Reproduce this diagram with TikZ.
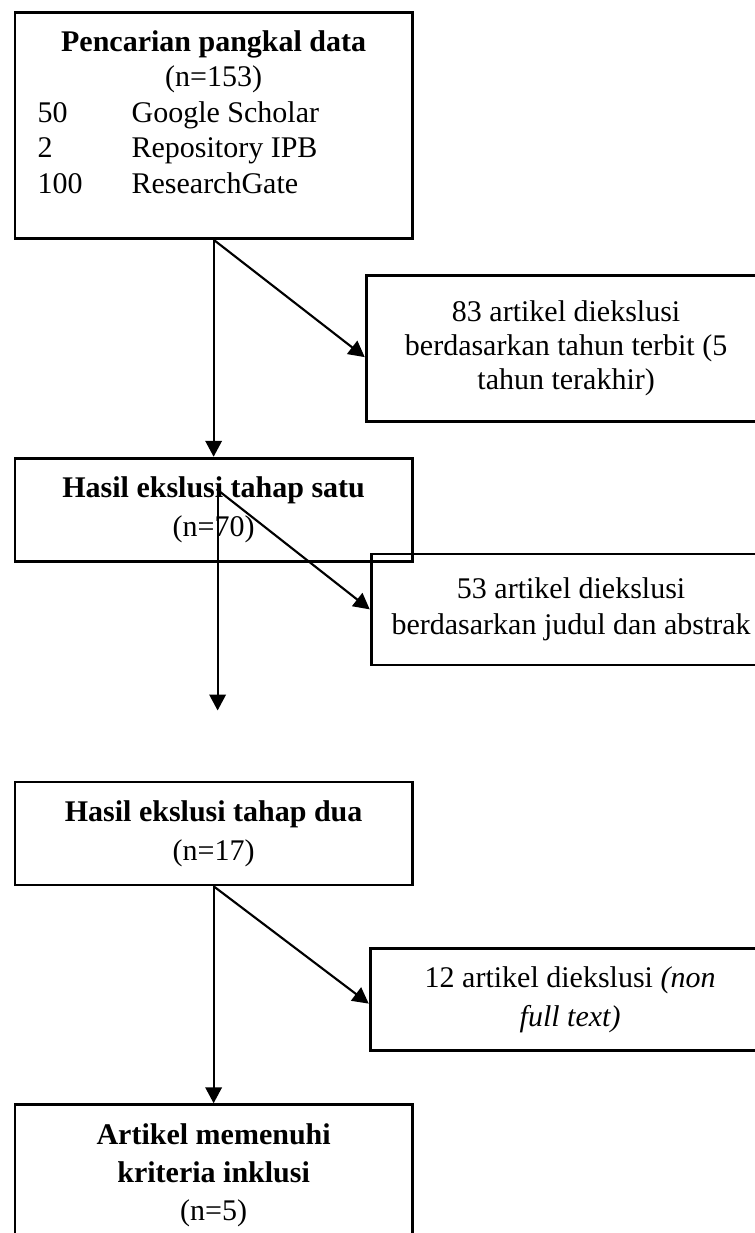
\documentclass[tikz,border=0pt]{standalone}
\usepackage{fontspec}
\setmainfont{Liberation Serif}
\usepackage{tikz}
\usetikzlibrary{positioning}
\usetikzlibrary{arrows.meta}
\usepackage{xcolor}

\begin{document}
\begin{tikzpicture}[
		% Style definitions - sizes taken from the flow chart
		mainbox/.style={draw, line width=1.1pt, minimum width=159pt, inner sep=0pt, align=center, font=\fontsize{12}{15.6}\selectfont},
		exbox/.style={draw, line width=1.1pt, minimum width=160pt, inner sep=0pt, align=center, anchor=north west, font=\fontsize{12}{14.4}\selectfont},
		arrow/.style={-{Triangle[length=6.4pt,width=6.6pt]}, line width=0.85pt},
		node distance=86.8pt,
		]
		% page frame (picture is cut at the right and bottom edge)
		\useasboundingbox (0,0) rectangle (302pt,-493.2pt);

		% === MAIN COLUMN ===
		\node[mainbox, minimum height=90.4pt, anchor=north west, font=\fontsize{12}{14.2}\selectfont] (search) at (5.4pt,-4.4pt) {%
			\begin{tabular}{@{}p{37.6pt}@{}p{103.2pt}@{}}
				\multicolumn{2}{c}{\textbf{Pencarian pangkal data}}\\
				\multicolumn{2}{c}{(n=153)}\\
				50 & Google Scholar\\
				2 & Repository IPB\\
				100 & ResearchGate\\[8pt]
			\end{tabular}};
		\node[mainbox, minimum height=41.2pt, below=of search] (stage1) {\textbf{Hasil ekslusi tahap satu}\\(n=70)};
		\node[mainbox, minimum height=41.2pt, below=87.2pt of stage1] (stage2) {\textbf{Hasil ekslusi tahap dua}\\(n=17)};
		\node[mainbox, minimum height=56.8pt, below=of stage2, font=\fontsize{12}{15.2}\selectfont] (included) {\textbf{Artikel memenuhi}\\\textbf{kriteria inklusi}\\(n=5)};

		% === EXCLUSION BOXES (right side) ===
		\node[exbox, minimum height=58.4pt, font=\fontsize{12}{13.6}\selectfont] (excl-year) at ([xshift=-19.6pt, yshift=-13.6pt]search.south east) {83 artikel diekslusi\\berdasarkan tahun terbit (5\\tahun terakhir)};
		\node[exbox, minimum height=44.4pt] (excl-title) at ([xshift=-17.6pt, yshift=4pt]stage1.south east) {53 artikel diekslusi\\berdasarkan judul dan abstrak};
		\node[exbox, minimum height=40.8pt, font=\fontsize{12}{15.6}\selectfont] (excl-text) at ([xshift=-18pt, yshift=-24.4pt]stage2.south east) {12 artikel diekslusi \textit{(non}\\\textit{full text)}};

		% free end of the open arrow below stage one
		\coordinate (gap) at ([xshift=1.6pt, yshift=-59.2pt]stage1.south);

		% === Connections ===
		\draw[arrow] (search.south) -- (stage1.north);
		\draw[arrow] (search.south) -- ([yshift=-3.6pt]excl-year.west);

		\draw[arrow] ([xshift=1.6pt, yshift=5pt]stage1.center) -- (gap);
		\draw[arrow] ([xshift=1.2pt, yshift=8.2pt]stage1.center) -- (excl-title.west);

		\draw[arrow] (stage2.south) -- (included.north);
		\draw[arrow] (stage2.south) -- ([yshift=-1.6pt]excl-text.west);

	\end{tikzpicture}
\end{document}
